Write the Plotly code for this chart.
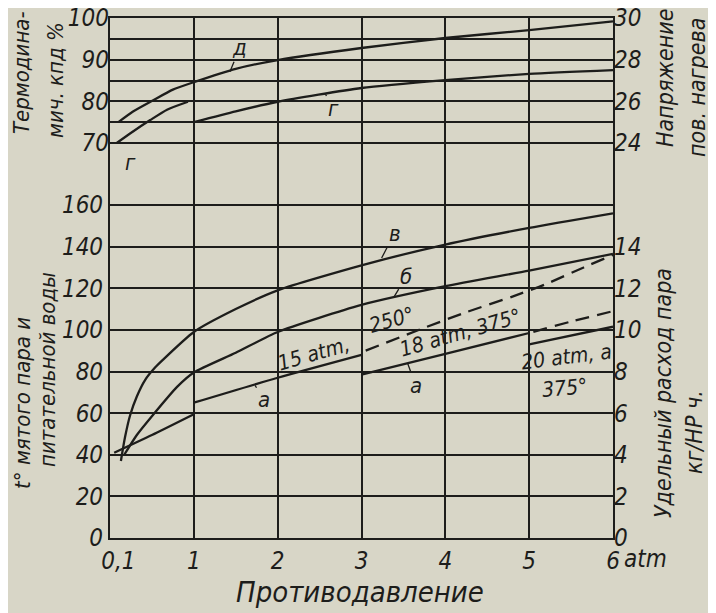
import plotly.graph_objects as go

# противодавление, atm (ось x)
# д - термодинамический кпд, %
d_x = [0.1, 0.27, 0.51, 0.75, 1, 1.5, 2, 3, 4, 5, 6]
d_y = [75, 77.5, 80.2, 82.8, 84.6, 87.8, 89.9, 92.8, 95.2, 97.1, 99.2]

# г - напряжение поверхности нагрева (два участка)
g1_x = [0.08, 0.27, 0.48, 0.68, 0.93]
g1_y = [24.0, 24.54, 25.1, 25.6, 25.98]
g2_x = [1, 1.5, 2, 3, 4, 5, 6]
g2_y = [25.0, 25.52, 25.98, 26.64, 27.02, 27.32, 27.5]

# в - t° мятого пара
v_x = [0.13, 0.18, 0.24, 0.32, 0.42, 0.54, 0.63, 1, 1.5, 2, 3, 4, 5, 6]
v_y = [37, 48.6, 59, 68, 76, 82, 85.6, 99, 110, 119, 131, 141, 149, 156]

# б - t° питательной воды
b_x = [0.17, 0.32, 0.51, 0.8, 1, 1.5, 2, 3, 4, 5, 6]
b_y = [40, 49.5, 59, 72.6, 79.5, 89, 99, 112, 121, 128.5, 136.5]

# а - удельный расход пара, кг/HP ч
a0_x = [0.05, 0.5, 1.0]
a0_y = [4.1, 4.95, 5.95]
a15_x = [1, 2, 3]
a15_y = [6.5, 7.7, 8.8]
a15_ext_x = [3.05, 3.75, 4.25, 4.8, 5.2, 5.65, 6]
a15_ext_y = [9.0, 10.1, 10.85, 11.6, 12.2, 13.0, 13.6]
a18_x = [3, 4, 5]
a18_y = [7.85, 8.85, 9.85]
a18_ext_x = [5.05, 5.5, 6]
a18_ext_y = [9.9, 10.4, 10.9]
a20_x = [5, 6]
a20_y = [9.3, 10.15]

x_ticks = [0.1, 1, 2, 3, 4, 5, 6]
x_ticktext = ["0,1", "1", "2", "3", "4", "5", "6"]
t_ticks = [0, 20, 40, 60, 80, 100, 120, 140, 160]
kpd_ticks = [70, 75, 80, 85, 90, 95, 100]
kpd_ticktext = ["70", "", "80", "", "90", "", "100"]
rashod_ticks = [0, 2, 4, 6, 8, 10, 12, 14]
napr_ticks = [24, 26, 28, 30]

BG = "#d8d6c7"
INK = "#1d1d1b"
FONT = "DejaVu Sans Condensed, Liberation Sans Narrow, DejaVu Sans"

OFF = 8  # page body margin
W, H = 716 - OFF, 613 - OFF
L, R, T, B = 110, 613, 18, 538  # plot area in page px
ph = B - T

# ranges so that both scales share the same grid
t_top = ph / (B - 205) * 160
kpd_bot = 100 - ph * 30 / (143 - T)
napr_bot = 30 - ph * 6 / (143 - T)

fig = go.Figure()

def line(x, y, yaxis, dash="solid"):
    fig.add_trace(go.Scatter(
        x=x, y=y, yaxis=yaxis, mode="lines",
        line=dict(color=INK, width=2.3, dash=dash, shape="spline", smoothing=0.6),
        showlegend=False, hoverinfo="skip"
    ))

line(d_x, d_y, "y2")
line(g1_x, g1_y, "y4")
line(g2_x, g2_y, "y4")
line(v_x, v_y, "y")
line(b_x, b_y, "y")
line(a0_x, a0_y, "y3")
line(a15_x, a15_y, "y3")
line(a15_ext_x, a15_ext_y, "y3", "14px,8px")
line(a18_x, a18_y, "y3")
line(a18_ext_x, a18_ext_y, "y3", "14px,8px")
line(a20_x, a20_y, "y3")

tick_font = dict(family=FONT, size=24, color=INK, style="italic")

def px(x_px, y_px):
    return (x_px - L) / (R - L), (B - y_px) / ph

def text(s, x_px, y_px, size=22, angle=0):
    xx, yy = px(x_px, y_px)
    fig.add_annotation(x=xx, y=yy, xref="paper", yref="paper", text=s,
                       showarrow=False, textangle=angle, xanchor="center", yanchor="middle",
                       font=dict(family=FONT, size=size, color=INK, style="italic"))

def label(s, x, y, yref, ax, ay, arrow=True):
    fig.add_annotation(x=x, y=y, xref="x", yref=yref, text=s, showarrow=arrow,
                       ax=ax, ay=ay, arrowhead=0, arrowwidth=1.3, arrowcolor=INK,
                       standoff=0, font=dict(family=FONT, size=22, color=INK, style="italic"))

# axis titles
text("Термодина-", 22, 73, 22, -90)
text("мич. кпд %", 55, 80, 22, -90)
text("t° мятого пара и", 22, 403, 22, -90)
text("питательной воды", 47, 370, 22, -90)
text("Напряжение", 665, 78, 23, -90)
text("пов. нагрева", 697, 88, 23, -90)
text("Удельный расход пара", 663, 393, 23, -90)
text("кг/HP ч.", 694, 432, 23, -90)
text("Противодавление", 360, 592, 29)
text("atm", 645, 559, 24)

# curve labels
label("д", 1.43, 87.1, "y2", 10, -24)
label("г", 2.57, 26.34, "y4", 8, 14)
label("г", 0.24, 65.4, "y2", 0, 0, arrow=False)
label("в", 3.24, 134.5, "y", 13, -25)
label("б", 3.39, 116, "y", 12, -20)
label("a", 1.73, 7.33, "y3", 9, 14)
label("a", 3.55, 8.4, "y3", 8, 22)

# regime labels
text("15 atm,", 313, 354, 21, -16)
text("250°", 392, 320, 21, -16)
text("18 atm, 375°", 460, 333, 21, -16)
text("20 atm, a", 566, 357, 21, -7)
text("375°", 565, 388, 21, -5)

common = dict(zeroline=False, ticks="", automargin=False, ticklabeloverflow="allow",
              tickfont=tick_font, tickmode="array")
grid = dict(gridcolor=INK, gridwidth=1.8)

fig.update_layout(
    width=W, height=H, autosize=False,
    margin=dict(l=L - OFF, r=W - (R - OFF), t=T - OFF, b=H - (B - OFF), pad=0),
    paper_bgcolor=BG, plot_bgcolor=BG,
    xaxis=dict(range=[0, 6], tickvals=x_ticks, ticktext=x_ticktext, showgrid=False,
               showline=True, linecolor=INK, linewidth=2.2, mirror=True,
               minor=dict(tickmode="array", tickvals=[1, 2, 3, 4, 5], showgrid=True,
                          gridcolor=INK, gridwidth=1.8, ticks=""), **common),
    yaxis=dict(range=[0, t_top], tickvals=t_ticks, showline=True, linecolor=INK,
               linewidth=2.2, mirror=True, **grid, **common),
    yaxis2=dict(range=[kpd_bot, 100], tickvals=kpd_ticks, ticktext=kpd_ticktext,
                overlaying="y", side="left", showline=False, **grid, **common),
    yaxis3=dict(range=[0, t_top / 10], tickvals=rashod_ticks, overlaying="y",
                side="right", showgrid=False, showline=False, **common),
    yaxis4=dict(range=[napr_bot, 30], tickvals=napr_ticks, overlaying="y",
                side="right", showgrid=False, showline=False, **common),
)

fig.write_html("out.html")
